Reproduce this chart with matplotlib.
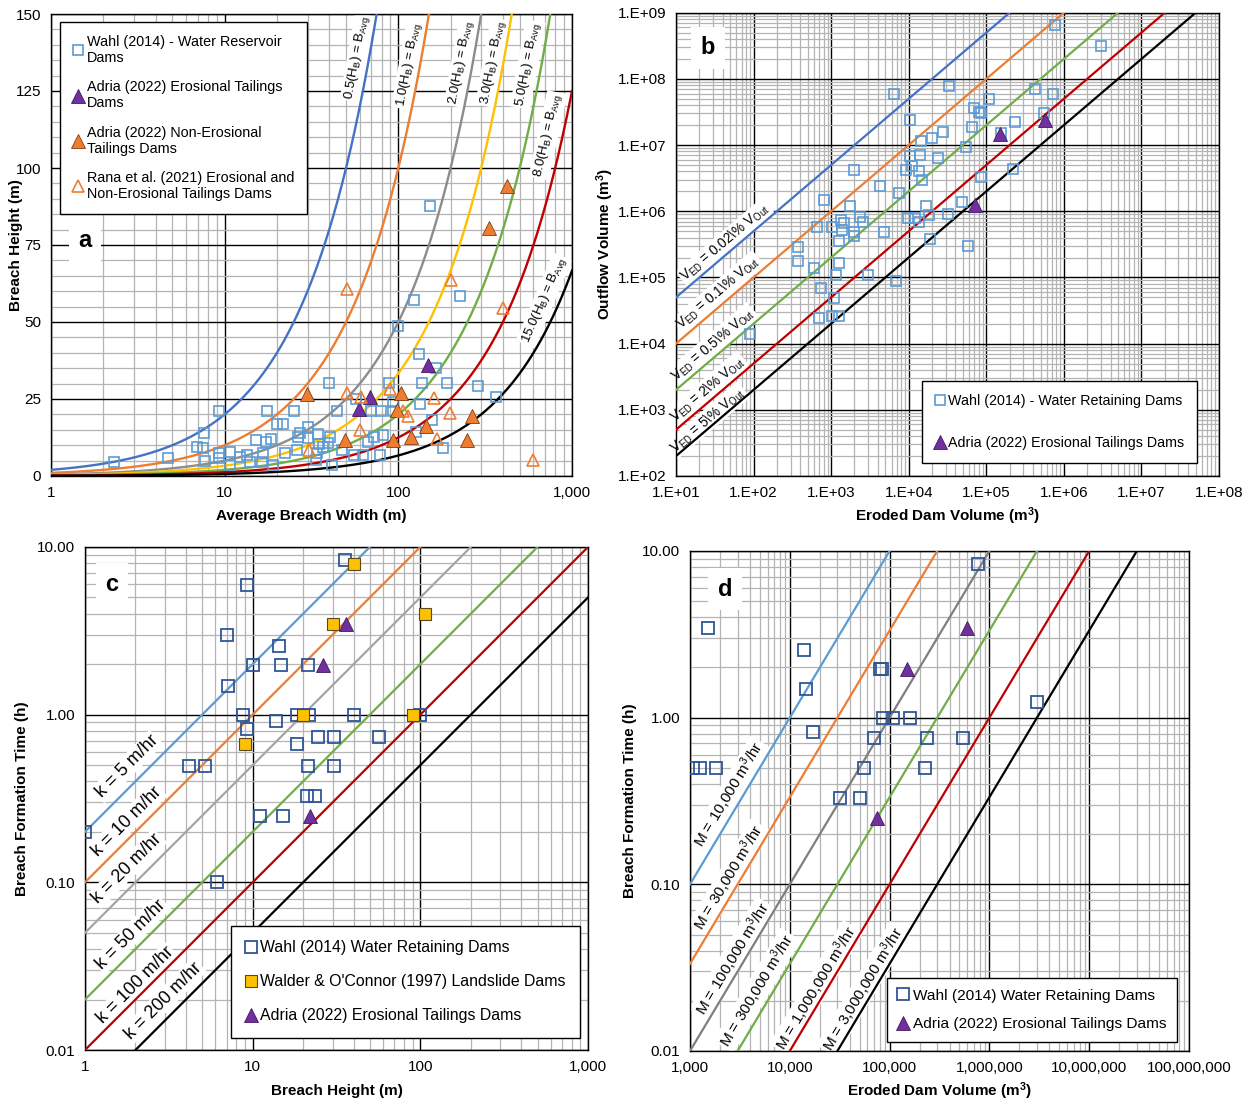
import numpy as np
import matplotlib
matplotlib.use('Agg')
import matplotlib.pyplot as plt
from matplotlib.ticker import LogLocator, NullFormatter, MultipleLocator

plt.rcParams['font.family'] = ['Liberation Sans', 'DejaVu Sans']
plt.rcParams['mathtext.fontset'] = 'custom'
plt.rcParams['mathtext.rm'] = 'Liberation Sans'
plt.rcParams['mathtext.it'] = 'Liberation Sans:italic'
plt.rcParams['mathtext.bf'] = 'Liberation Sans:bold'

# ---------------- Panel a data ----------------
a_wahl_b = [2.3, 4.7, 6.96, 7.5, 7.6, 7.7, 9.3, 9.3, 9.3, 10.7, 10.7, 12.2, 13.4, 14, 15.1, 17.5, 17.3, 18.4,
            16.7, 16.5, 19.9, 21.8, 25.1, 19.1, 22.2, 26, 27.1, 26.5, 30.3, 30.3, 34.6, 35.1, 34, 33.5, 37,
            40.4, 39.5, 41.3, 40, 44.2, 47.1, 55.5, 57, 62.8, 67.1, 69.8, 79.4, 72.6, 78.3, 81.9, 88.6, 92.8,
            93.4, 100, 132, 136, 133, 164, 157, 127, 181, 190, 286, 363, 152, 123, 226]
a_wahl_h = [4.7, 5.9, 9.5, 9.0, 13.9, 5.0, 21.1, 7.4, 5.7, 7.9, 3.6, 6.3, 6.8, 4.6, 11.7, 21.1, 11.1, 11.9,
            7.4, 4.6, 16.8, 16.8, 21.1, 3.6, 7.4, 8.4, 14.1, 12.8, 15.8, 12.2, 13.6, 10.4, 7.4, 5.2, 9.5,
            12.6, 10.6, 3.6, 30.1, 21.1, 8.4, 6.8, 24.9, 6.8, 11.1, 21.1, 21.1, 12.8, 6.8, 13.3, 30.3, 24.1,
            21.1, 48.8, 39.5, 30.3, 23.4, 35.0, 18.2, 14.4, 9.0, 30.3, 29.2, 25.5, 87.5, 57.2, 58.6]
a_adria_ero_b = [149, 68.6, 59.3]
a_adria_ero_h = [36.0, 25.5, 21.8]
a_adria_non_b = [29.6, 49.3, 93.5, 98.5, 103, 119, 144, 247, 264, 334, 423]
a_adria_non_h = [26.5, 11.7, 11.7, 21.4, 26.8, 12.6, 16.3, 11.7, 19.5, 80.6, 94.3]
a_rana_b = [50.4, 60.6, 60.3, 89, 106, 113, 160, 199, 168, 30.6, 600, 50.4, 200, 399]
a_rana_h = [26.8, 25.8, 15.0, 28.4, 21.0, 19.5, 25.3, 20.4, 12.0, 8.5, 5.3, 60.6, 63.7, 54.7]
a_factors = [0.5, 1.0, 2.0, 3.0, 5.0, 8.0, 15.0]
a_curve_labels = ['0.5', '1.0', '2.0', '3.0', '5.0', '8.0', '15.0']
a_xticks = [1, 10, 100, 1000]
a_xticklabels = ['1', '10', '100', '1,000']

# ---------------- Panel b data ----------------
b_wahl_ved = [6.5e3, 3.3e4, 1.05e4, 1.07e5, 4.3e5, 7.2e5, 6.9e4, 8.1e4, 8.5e4, 6.6e4, 2.37e5, 5.5e5, 2.8e4,
              2.0e4, 1.45e4, 1.55e5, 5.4e4, 1.05e4, 1.4e4, 2.4e4, 2.0e3, 1.1e4, 9.3e3, 1.35e4, 1.5e4, 8.5e4,
              2.2e5, 4.3e3, 7.6e3, 820, 1.74e3, 1.66e4, 4.9e4, 2.35e3, 2.6e3, 1.33e3, 1.45e3, 1.03e3, 665,
              1.37e3, 2.0e3, 2.0e3, 4.8e3, 1.28e3, 9.8e3, 1.2e4, 1.35e4, 1.8e4, 3.2e4, 1.9e4, 5.8e4, 373, 370,
              600, 1.25e3, 1.16e3, 2.96e3, 6.9e3, 750, 1.08e3, 690, 1.03e3, 1.28e3, 91, 7.7e5, 3.0e6]
b_wahl_vout = [5.9e7, 7.8e7, 2.4e7, 4.9e7, 7.1e7, 5.9e7, 3.6e7, 3.2e7, 3.1e7, 1.9e7, 2.25e7, 3.0e7, 1.6e7,
               1.3e7, 1.17e7, 1.5e7, 9.2e6, 6.8e6, 7.1e6, 6.4e6, 4.2e6, 4.8e6, 4.2e6, 4.0e6, 2.95e6, 3.3e6,
               4.4e6, 2.4e6, 1.87e6, 1.5e6, 1.18e6, 1.2e6, 1.38e6, 8.1e5, 6.8e5, 7.4e5, 6.6e5, 5.8e5, 5.8e5,
               5.3e5, 4.9e5, 4.2e5, 4.9e5, 3.5e5, 7.8e5, 7.8e5, 6.8e5, 8.9e5, 9.1e5, 3.8e5, 3.0e5, 2.9e5, 1.8e5,
               1.37e5, 1.63e5, 1.1e5, 1.07e5, 8.9e4, 6.9e4, 4.9e4, 2.4e4, 2.6e4, 2.6e4, 1.4e4, 6.5e8, 3.1e8]
b_adria_ved = [1.5e5, 5.7e5, 7.1e4]
b_adria_vout = [1.48e7, 2.4e7, 1.23e6]
b_percents = [0.02, 0.1, 0.5, 2, 5]
b_percent_labels = ['0.02%', '0.1%', '0.5%', '2%', '5%']
b_xticks = [1e1, 1e2, 1e3, 1e4, 1e5, 1e6, 1e7, 1e8]
b_xticklabels = ['1.E+01', '1.E+02', '1.E+03', '1.E+04', '1.E+05', '1.E+06', '1.E+07', '1.E+08']
b_yticks = [1e2, 1e3, 1e4, 1e5, 1e6, 1e7, 1e8, 1e9]
b_yticklabels = ['1.E+02', '1.E+03', '1.E+04', '1.E+05', '1.E+06', '1.E+07', '1.E+08', '1.E+09']

# ---------------- Panel c data ----------------
c_wahl_h = [35.7, 9.25, 7.03, 14.3, 10.0, 14.8, 21.4, 7.13, 8.75, 18.5, 21.6, 40, 100, 9.3, 13.8, 24.6, 30.7,
            56.6, 18.5, 4.15, 5.22, 21.4, 30.7, 21.1, 23.4, 11.1, 15.2, 1.0, 6.1]
c_wahl_t = [8.4, 5.96, 2.97, 2.56, 1.98, 1.98, 1.98, 1.49, 1.0, 1.0, 1.0, 1.0, 1.0, 0.825, 0.912, 0.74, 0.74,
            0.74, 0.665, 0.497, 0.497, 0.497, 0.497, 0.329, 0.329, 0.25, 0.25, 0.2, 0.1]
c_walder_h = [40, 107, 30, 20, 90.4, 9.0]
c_walder_t = [7.95, 3.98, 3.47, 1.0, 1.0, 0.668]
c_adria_h = [35.9, 26.1, 22]
c_adria_t = [3.47, 1.98, 0.25]
c_k = [5, 10, 20, 50, 100, 200]
c_xticks = [1, 10, 100, 1000]
c_xticklabels = ['1', '10', '100', '1,000']
c_yticks = [0.01, 0.1, 1, 10]
c_yticklabels = ['0.01', '0.10', '1.00', '10.00']

# ---------------- Panel d data ----------------
d_wahl_v = [7.6e5, 1.5e3, 1.38e4, 8.0e4, 8.4e4, 1.45e4, 8.5e4, 1.09e5, 1.6e5, 3.0e6, 1.7e4, 6.9e4, 2.36e5,
            5.5e5, 1.07e3, 1.27e3, 1.81e3, 5.6e4, 2.27e5, 3.17e4, 5.07e4]
d_wahl_t = [8.4, 3.47, 2.54, 1.97, 1.97, 1.48, 1.0, 1.0, 1.0, 1.24, 0.824, 0.752, 0.752, 0.752, 0.497, 0.497,
            0.497, 0.497, 0.497, 0.329, 0.329]
d_adria_v = [5.95e5, 1.49e5, 7.4e4]
d_adria_t = [3.44, 1.97, 0.25]
d_m = [1e4, 3e4, 1e5, 3e5, 1e6, 3e6]
d_m_labels = ['10,000', '30,000', '100,000', '300,000', '1,000,000', '3,000,000']
d_xticks = [1e3, 1e4, 1e5, 1e6, 1e7, 1e8]
d_xticklabels = ['1,000', '10,000', '100,000', '1,000,000', '10,000,000', '100,000,000']

# ---------------- label anchor positions (data coords of label centres) ----------------
a_lab_pos = [(58.1, 135.8), (115.1, 133.4), (230.8, 134.2), (350.6, 134.2), (557, 133.6), (726.6, 110.6),
             (689, 57.0)]
b_lab_pos = [(43.0, 3.36e5), (34.9, 5.92e4), (29.7, 9.73e3), (25.2, 2.04e3), (25.5, 695)]
c_lab_pos = [(1.78, 0.490), (1.78, 0.230), (1.78, 0.1207), (1.88, 0.0488), (1.99, 0.0242), (2.92, 0.0196)]
d_lab_pos = [(2477, 0.346), (2477, 0.110), (2673, 0.0357), (4688, 0.0231), (18490, 0.0239), (54580, 0.0235)]

# ---------------- styles ----------------
C_WAHL_LIGHT = '#5B9BD5'
C_WAHL_DARK = '#2F5597'
C_PURPLE = '#7030A0'
C_ORANGE = '#ED7D31'
a_colors = ['#4472C4', '#ED7D31', '#8C8C8C', '#FFC000', '#70AD47', '#C00000', '#000000']
b_colors = ['#4472C4', '#ED7D31', '#70AD47', '#C00000', '#000000']
c_colors = ['#5B9BD5', '#ED7D31', '#A5A5A5', '#70AD47', '#C00000', '#000000']
d_colors = ['#5B9BD5', '#ED7D31', '#7F7F7F', '#70AD47', '#C00000', '#000000']

W, H = 1250, 1101
fig = plt.figure(figsize=(W / 100, H / 100), dpi=100)


def add_ax(l, t, r, b):
    return fig.add_axes([l / W, 1 - b / H, (r - l) / W, (b - t) / H])


def style(ax):
    ax.set_axisbelow(True)
    ax.grid(which='major', color='black', lw=1.0)
    ax.grid(which='minor', color='#B4B4B4', lw=0.9)
    ax.tick_params(which='both', length=0, labelsize=11, pad=7)
    for s in ax.spines.values():
        s.set_color('black')
        s.set_linewidth(1.0)


def log_minor(axis):
    axis.set_minor_locator(LogLocator(base=10, subs=np.arange(2, 10), numticks=100))
    axis.set_minor_formatter(NullFormatter())


def line_label(ax, pos, p_on, p_on2, text, size):
    """Text centred at pos, rotated parallel to the curve through p_on -> p_on2."""
    p1 = ax.transData.transform(p_on)
    p2 = ax.transData.transform(p_on2)
    ang = np.degrees(np.arctan2(p2[1] - p1[1], p2[0] - p1[0]))
    ax.text(pos[0], pos[1], text, rotation=ang, rotation_mode='anchor', ha='center', va='center',
            fontsize=size, bbox=dict(fc='white', ec='none', pad=1.2), zorder=2.5, clip_on=False)


def set_labels(ax, xl, yl, xy, yx):
    ax.set_xlabel(xl, fontsize=11, fontweight='bold')
    ax.set_ylabel(yl, fontsize=11, fontweight='bold')
    ax.xaxis.set_label_coords(0.5, xy)
    ax.yaxis.set_label_coords(yx, 0.5)
    ax.xaxis.label.set_va('center')
    ax.yaxis.label.set_va('center')


def panel_letter(ax, x, y, s):
    ax.text(x, y, s, transform=ax.transAxes, fontsize=17, fontweight='bold', ha='center', va='center',
            bbox=dict(fc='white', ec='none', pad=7), zorder=4)


def legend(ax, x, y, spacing, size, bpad=0.9):
    lg = ax.legend(loc='upper left', bbox_to_anchor=(x, y), borderaxespad=0, fontsize=size,
                   frameon=True, fancybox=False, framealpha=1, edgecolor='black',
                   handlelength=0.7, handletextpad=0.25, labelspacing=spacing, borderpad=bpad)
    lg.get_frame().set_linewidth(1.0)
    lg.set_zorder(6)
    return lg


# ================= Panel a =================
axA = add_ax(51, 14, 572, 476)
axA.set_xscale('log')
axA.set_xlim(1, 1000)
axA.set_ylim(0, 150)
axA.set_xticks(a_xticks, a_xticklabels)
log_minor(axA.xaxis)
axA.set_yticks(np.arange(0, 151, 25))
axA.yaxis.set_minor_locator(MultipleLocator(5))
style(axA)
bb = np.logspace(0, 3, 500)
for f, c in zip(a_factors, a_colors):
    axA.plot(bb, bb / f, color=c, lw=1.7, zorder=3)
for f, lab, pos in zip(a_factors, a_curve_labels, a_lab_pos):
    hh = pos[1]
    line_label(axA, pos, (f * hh, hh), (f * hh * 1.01, hh * 1.01),
               lab + r'(H$_\mathrm{B}$) = B$_\mathrm{Avg}$', 9.5)
axA.plot(a_wahl_b, a_wahl_h, 's', mfc='none', mec=C_WAHL_LIGHT, mew=1.2, ms=6.8, zorder=5,
         label='Wahl (2014) - Water Reservoir\nDams')
axA.plot(a_adria_ero_b, a_adria_ero_h, '^', mfc=C_PURPLE, mec='#3F1A5C', mew=0.6, ms=9.5, zorder=5,
         label='Adria (2022) Erosional Tailings\nDams')
axA.plot(a_adria_non_b, a_adria_non_h, '^', mfc=C_ORANGE, mec='#843C0C', mew=0.6, ms=9.5, zorder=5,
         label='Adria (2022) Non-Erosional\nTailings Dams')
axA.plot(a_rana_b, a_rana_h, '^', mfc='none', mec=C_ORANGE, mew=1.2, ms=8, zorder=5,
         label='Rana et al. (2021) Erosional and\nNon-Erosional Tailings Dams')
legend(axA, 0.017, 0.983, 1.05, 10.4)
panel_letter(axA, 0.065, 0.509, 'a')
set_labels(axA, 'Average Breach Width (m)', 'Breach Height (m)', -0.087, -0.067)

# ================= Panel b =================
axB = add_ax(676, 12.7, 1219, 476)
axB.set_xscale('log')
axB.set_yscale('log')
axB.set_xlim(1e1, 1e8)
axB.set_ylim(1e2, 1e9)
axB.set_xticks(b_xticks, b_xticklabels)
axB.set_yticks(b_yticks, b_yticklabels)
log_minor(axB.xaxis)
log_minor(axB.yaxis)
style(axB)
vx = np.logspace(1, 8, 50)
for p, c in zip(b_percents, b_colors):
    axB.plot(vx, vx / (p / 100.0), color=c, lw=1.6, zorder=3)
for p, lab, pos in zip(b_percents, b_percent_labels, b_lab_pos):
    line_label(axB, pos, (10, 10 / (p / 100.0)), (100, 100 / (p / 100.0)),
               r'V$_\mathrm{ED}$ = ' + lab.replace('%', r'\%') + r' V$_\mathrm{Out}$', 9.8)
axB.plot(b_wahl_ved, b_wahl_vout, 's', mfc='none', mec=C_WAHL_LIGHT, mew=1.2, ms=6.8, zorder=5,
         label='Wahl (2014) - Water Retaining Dams')
axB.plot(b_adria_ved, b_adria_vout, '^', mfc=C_PURPLE, mec='#3F1A5C', mew=0.6, ms=9.5, zorder=5,
         label='Adria (2022) Erosional Tailings Dams')
legend(axB, 0.453, 0.205, 1.95, 10.3)
panel_letter(axB, 0.059, 0.924, 'b')
set_labels(axB, 'Eroded Dam Volume (m$^\\mathbf{3}$)', 'Outflow Volume (m$^\\mathbf{3}$)', -0.086, -0.131)

# ================= Panel c =================
axC = add_ax(85, 547, 588, 1050)
axC.set_xscale('log')
axC.set_yscale('log')
axC.set_xlim(1, 1000)
axC.set_ylim(0.01, 10)
axC.set_xticks(c_xticks, c_xticklabels)
axC.set_yticks(c_yticks, c_yticklabels)
log_minor(axC.xaxis)
log_minor(axC.yaxis)
style(axC)
hx = np.logspace(0, 3, 50)
for k, c in zip(c_k, c_colors):
    axC.plot(hx, hx / k, color=c, lw=1.6, zorder=3)
for k, pos in zip(c_k, c_lab_pos):
    line_label(axC, pos, (1, 1 / k), (10, 10 / k), 'k = %d m/hr' % k, 13)
axC.plot(c_wahl_h, c_wahl_t, 's', mfc='none', mec=C_WAHL_DARK, mew=1.3, ms=9, zorder=5,
         label='Wahl (2014) Water Retaining Dams')
axC.plot(c_walder_h, c_walder_t, 's', mfc='#FFC000', mec='#5A4A1A', mew=0.8, ms=9, zorder=5,
         label="Walder & O'Connor (1997) Landslide Dams")
axC.plot(c_adria_h, c_adria_t, '^', mfc=C_PURPLE, mec='#3F1A5C', mew=0.6, ms=10, zorder=5,
         label='Adria (2022) Erosional Tailings Dams')
legend(axC, 0.290, 0.2465, 1.2, 11.4)
panel_letter(axC, 0.054, 0.926, 'c')
set_labels(axC, 'Breach Height (m)', 'Breach Formation Time (h)', -0.0815, -0.125)

# ================= Panel d =================
axD = add_ax(690, 551, 1189, 1051)
axD.set_xscale('log')
axD.set_yscale('log')
axD.set_xlim(1e3, 1e8)
axD.set_ylim(0.01, 10)
axD.set_xticks(d_xticks, d_xticklabels)
axD.set_yticks(c_yticks, c_yticklabels)
log_minor(axD.xaxis)
log_minor(axD.yaxis)
style(axD)
mx = np.logspace(3, 8, 50)
for m, c in zip(d_m, d_colors):
    axD.plot(mx, mx / m, color=c, lw=1.6, zorder=3)
for m, lab, pos in zip(d_m, d_m_labels, d_lab_pos):
    line_label(axD, pos, (1e4, 1e4 / m), (1e5, 1e5 / m), 'M = ' + lab + r' m$^3$/hr', 11)
axD.plot(d_wahl_v, d_wahl_t, 's', mfc='none', mec=C_WAHL_DARK, mew=1.3, ms=9, zorder=5,
         label='Wahl (2014) Water Retaining Dams')
axD.plot(d_adria_v, d_adria_t, '^', mfc=C_PURPLE, mec='#3F1A5C', mew=0.6, ms=10, zorder=5,
         label='Adria (2022) Erosional Tailings Dams')
legend(axD, 0.395, 0.146, 0.95, 11.1, 0.7)
panel_letter(axD, 0.070, 0.924, 'd')
set_labels(axD, 'Eroded Dam Volume (m$^\\mathbf{3}$)', 'Breach Formation Time (h)', -0.08, -0.12)

fig.savefig('out.png', dpi=100)
